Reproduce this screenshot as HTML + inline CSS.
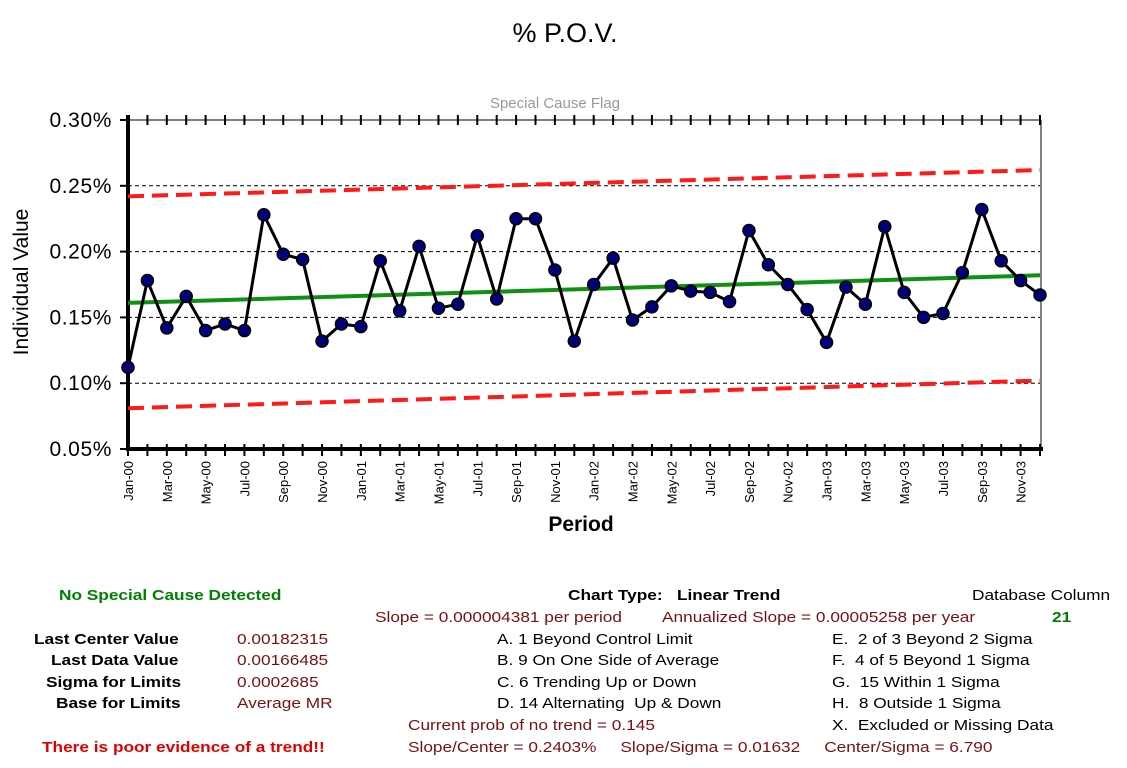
<!DOCTYPE html>
<html><head><meta charset="utf-8"><style>
body{margin:0;background:#fff;width:1127px;height:768px;overflow:hidden;font-family:"Liberation Sans",sans-serif}
svg{position:absolute;left:0;top:0}
.t{position:absolute;font-size:15px;white-space:nowrap;transform:scaleX(1.15);transform-origin:0 0}
.b{font-weight:bold}
.g{color:#008000}.r{color:#7a1010}.red{color:#e00000}
</style></head><body>
<svg id="chart" width="1127" height="560"></svg>
<div class="t b g" style="left:59px;top:587px">No Special Cause Detected</div>
<div class="t b" style="left:568px;top:587px">Chart Type:&nbsp;&nbsp; Linear Trend</div>
<div class="t" style="left:972px;top:587px">Database Column</div>
<div class="t b g" style="left:1052px;top:609px">21</div>
<div class="t r" style="left:375px;top:609px">Slope = 0.000004381 per period</div>
<div class="t r" style="left:662px;top:609px">Annualized Slope = 0.00005258 per year</div>
<div class="t b" style="left:34px;top:631px">Last Center Value</div>
<div class="t b" style="left:51px;top:652px">Last Data Value</div>
<div class="t b" style="left:46px;top:674px">Sigma for Limits</div>
<div class="t b" style="left:56px;top:695px">Base for Limits</div>
<div class="t r" style="left:237px;top:631px">0.00182315</div>
<div class="t r" style="left:237px;top:652px">0.00166485</div>
<div class="t r" style="left:237px;top:674px">0.0002685</div>
<div class="t r" style="left:237px;top:695px">Average MR</div>
<div class="t" style="left:497px;top:631px">A. 1 Beyond Control Limit</div>
<div class="t" style="left:497px;top:652px">B. 9 On One Side of Average</div>
<div class="t" style="left:497px;top:674px">C. 6 Trending Up or Down</div>
<div class="t" style="left:497px;top:695px">D. 14 Alternating&nbsp; Up &amp; Down</div>
<div class="t" style="left:832px;top:631px">E.&nbsp; 2 of 3 Beyond 2 Sigma</div>
<div class="t" style="left:832px;top:652px">F.&nbsp; 4 of 5 Beyond 1 Sigma</div>
<div class="t" style="left:832px;top:674px">G.&nbsp; 15 Within 1 Sigma</div>
<div class="t" style="left:832px;top:695px">H.&nbsp; 8 Outside 1 Sigma</div>
<div class="t" style="left:832px;top:717px">X.&nbsp; Excluded or Missing Data</div>
<div class="t r" style="left:408px;top:717px">Current prob of no trend = 0.145</div>
<div class="t r" style="left:408px;top:739px">Slope/Center = 0.2403%&nbsp;&nbsp;&nbsp;&nbsp; Slope/Sigma = 0.01632&nbsp;&nbsp;&nbsp;&nbsp; Center/Sigma = 6.790</div>
<div class="t b red" style="left:42px;top:739px">There is poor evidence of a trend!!</div>
<script>
const months=["Jan","Feb","Mar","Apr","May","Jun","Jul","Aug","Sep","Oct","Nov","Dec"];
const years=["00","01","02","03"];
const values=[0.112,0.178,0.142,0.166,0.140,0.145,0.140,0.228,0.198,0.194,0.132,0.145,
0.143,0.193,0.155,0.204,0.157,0.160,0.212,0.164,0.225,0.225,0.186,0.132,
0.175,0.195,0.148,0.158,0.174,0.170,0.169,0.162,0.216,0.190,0.175,0.156,
0.131,0.173,0.160,0.219,0.169,0.150,0.153,0.184,0.232,0.193,0.178,0.167];
const centerEnds=[0.161,0.182];
const uclEnds=[0.242,0.262];
const lclEnds=[0.081,0.102];
const yTicks=[0.05,0.10,0.15,0.20,0.25,0.30];
const svg=document.getElementById('chart');const NS='http://www.w3.org/2000/svg';
const X0=128,X1=1040,Y0=449,Y1=120,n=values.length;
const xs=i=>X0+i*(X1-X0)/(n-1);
const ys=v=>Y0-(v-0.05)/0.25*(Y0-Y1);
function el(t,a,name){const e=document.createElementNS(NS,t);for(const k in a)e.setAttribute(k,a[k]);


svg.appendChild(e);return e;}
function txt(x,y,s,a,name){const e=el('text',Object.assign({x:x,y:y},a),name);e.textContent=s;return e;}
txt(565,42,'% P.O.V.',{'font-size':27,'text-anchor':'middle'},'chart-title');
txt(555,108,'Special Cause Flag',{'font-size':15,'text-anchor':'middle',fill:'#999'},'special-cause-flag');
yTicks.forEach(v=>{const y=ys(v);
 if(v>0.05&&v<0.30)el('line',{x1:X0,x2:X1,y1:y,y2:y,stroke:'#000','stroke-width':1,'stroke-dasharray':'4,3'},'gridline');
 el('line',{x1:X0-8,x2:X0,y1:y,y2:y,stroke:'#000','stroke-width':2},'y-tick');
 txt(X0-16,y+7,v.toFixed(2)+'%',{'font-size':21,'text-anchor':'end','letter-spacing':0.6},'y-tick-label');});
el('line',{x1:X0,x2:X1,y1:Y1,y2:Y1,stroke:'#000','stroke-width':1},'plot-top-border');
el('line',{x1:X1+1,x2:X1+1,y1:Y1,y2:Y0,stroke:'#000','stroke-width':1},'plot-right-border');
for(let i=0;i<n;i++){const x=xs(i);
 el('line',{x1:x,x2:x,y1:Y1-5,y2:Y1+5,stroke:'#000','stroke-width':2},'top-tick');
 el('line',{x1:x,x2:x,y1:Y0-5,y2:Y0+7,stroke:'#000','stroke-width':2},'x-tick');
 if(i%2==0){const lab=months[i%12]+'-'+years[Math.floor(i/12)];
  txt(0,0,lab,{'font-size':13,'text-anchor':'end',transform:`translate(${x+5},${Y0+12}) rotate(-90)`},'x-tick-label');}}
el('line',{x1:X0,x2:X0,y1:Y1-5,y2:Y0+2,stroke:'#000','stroke-width':4},'y-axis');
el('line',{x1:X0-2,x2:X1+3,y1:Y0,y2:Y0,stroke:'#000','stroke-width':4},'x-axis');
function lim(ends,name,c,w,d){el('line',{x1:X0,x2:X1,y1:ys(ends[0]),y2:ys(ends[1]),stroke:c,'stroke-width':w,'stroke-dasharray':d||'none'},name);}
lim(uclEnds,'upper-control-limit','#ff1a1a',4,'16,8');
lim(lclEnds,'lower-control-limit','#ff1a1a',4,'16,8');
lim(centerEnds,'center-trend-line','#109010',4);
el('polyline',{points:values.map((v,i)=>xs(i)+','+ys(v)).join(' '),fill:'none',stroke:'#000','stroke-width':3},'data-line');
values.forEach((v,i)=>el('circle',{cx:xs(i),cy:ys(v),r:6,fill:'#00007a',stroke:'#000','stroke-width':1.5},'data-point'));
txt(0,0,'Individual Value',{'font-size':21,'text-anchor':'middle',transform:'translate(28,282) rotate(-90)'},'y-axis-title');
txt(581,531,'Period',{'font-size':21,'font-weight':'bold','text-anchor':'middle'},'x-axis-title');
</script>
</body></html>
